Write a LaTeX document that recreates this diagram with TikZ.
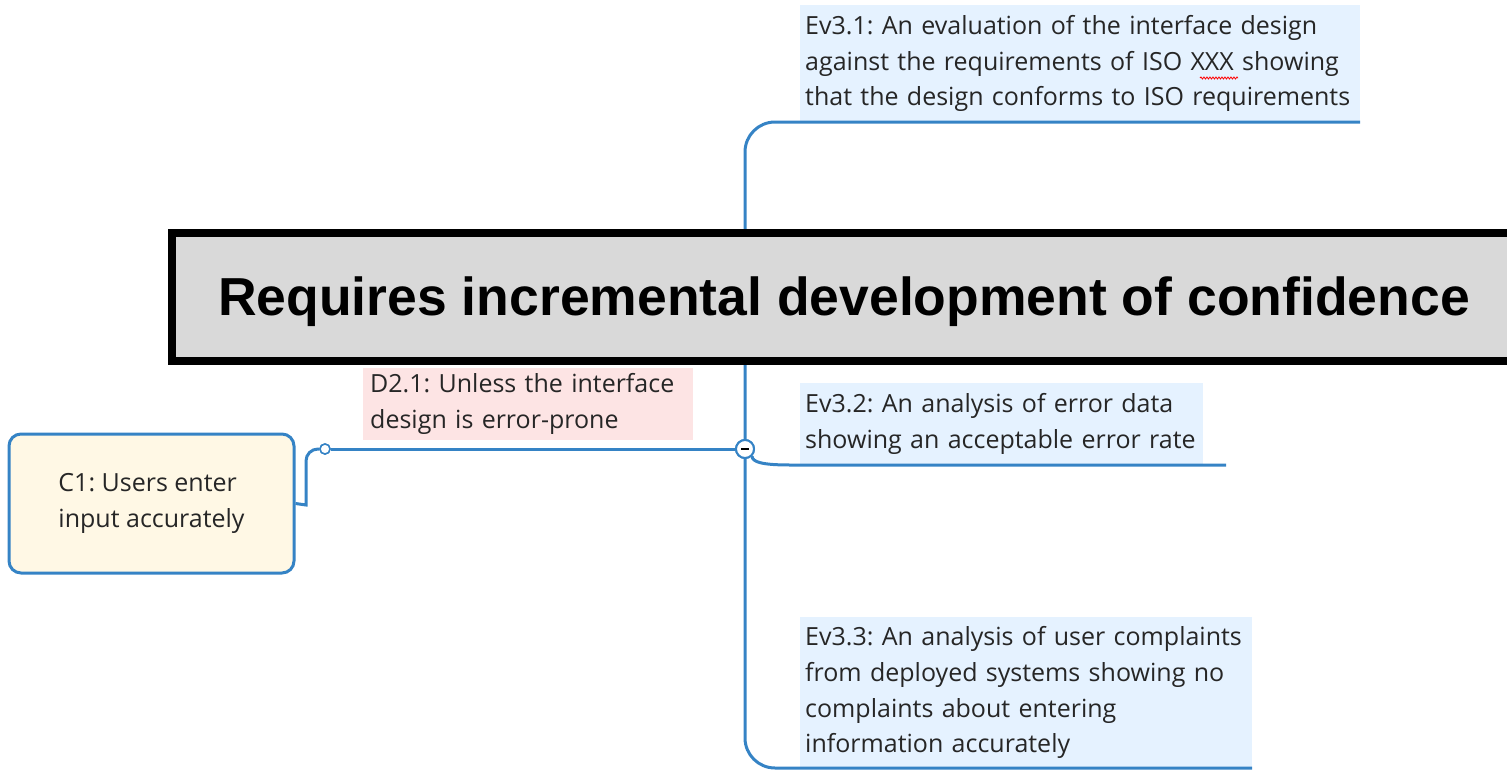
\documentclass[tikz,border=0pt]{standalone}
\usepackage{fontspec}
\setmainfont{Open Sans}
\newfontfamily\titlefont{Liberation Sans}
\usetikzlibrary{positioning,calc,decorations.pathmorphing}
\definecolor{mmblue}{RGB}{53,131,197}
\definecolor{mmev}{RGB}{229,242,255}
\definecolor{mmdef}{RGB}{253,228,228}
\definecolor{mmclaim}{RGB}{255,248,229}
\definecolor{mmgray}{RGB}{217,217,217}
\tikzset{
	link/.style = { draw=mmblue, line width=3pt },
	txt/.style = { font=\frenchspacing\fontsize{25}{35.6}\selectfont, align=left, text=black!85, inner sep=0pt },
	ev/.style = { txt, fill=mmev, anchor=north west, text width=#1, inner xsep=5pt },
	dfr/.style = { txt, fill=mmdef, anchor=north west, minimum width=330pt, minimum height=72pt, text width=316pt, inner xsep=7pt },
	claim/.style = { txt, draw=mmblue, line width=3pt, fill=mmclaim, rounded corners=12pt, minimum width=285pt, minimum height=139pt },
	knot/.style = { circle, draw=mmblue, line width=1.5pt, fill=white, inner sep=0pt, minimum size=10pt },
	hubc/.style = { circle, draw=mmblue, line width=2pt, fill=white, inner sep=0pt, minimum size=18pt },
	head/.style = { draw=black, line width=8pt, fill=mmgray, inner sep=0pt, anchor=north west },
	headtxt/.style = { font=\titlefont\bfseries\fontsize{53.5}{60}\selectfont, inner sep=0pt, anchor=base west },
}
\begin{document}
\begin{tikzpicture}[x=1pt,y=-1pt]
\clip (0,0) rectangle (1507,771);

\node (c1)   [claim] at (151.5,503.5) {C1: Users enter \\ input accurately};
\node (knot) [knot]  at (325,449) {};
\node (hub)  [hubc]  at (745,449) {};
\node (d21)  [dfr]   at (363,368) {D2.1: Unless the interface \\ design is error-prone};

\node (ev31) [ev=550pt,minimum height=117pt] at (800,5)   {Ev3.1: An evaluation of the interface design \\ against the requirements of ISO XXX showing \\ that the design conforms to ISO requirements};
\node (ev32) [ev=393pt,minimum height=82pt]  at (800,383) {Ev3.2: An analysis of error data \\ showing an acceptable error rate};
\node (ev33) [ev=442pt,minimum height=151pt] at (800,617) {Ev3.3: An analysis of user complaints \\ from deployed systems showing no \\ complaints about entering \\ information accurately};

\coordinate (e31) at (1360,122);
\coordinate (e32) at (1226,465);
\coordinate (e33) at (1252,768);

% connectors
\draw[link] (c1.east) -- (306,505) [rounded corners=12pt] -- (306,449) -- (knot.west);
\draw[link] (knot) -- (hub);
\draw[link,rounded corners=30pt] (hub.north) |- (e31);
\draw[link,rounded corners=30pt] (hub.south) |- (e33);
\draw[link] (hub.south east) .. controls (752,462) and (762,465) .. (790,465) -- (e32);
\node (hub2) [hubc] at (hub) {};
\draw[line width=1.5pt] ($(hub2)-(4,0)$) -- ($(hub2)+(4,0)$);
\node (knot2) [knot] at (knot) {};

% spell check mark
\draw[red,line width=0.8pt,decorate,decoration={snake,amplitude=1pt,segment length=3pt}] (1200,78) -- (1238,78);

\node (title) [head,minimum width=1360pt,minimum height=128pt] at (168,229) {};
\node (ttext) [headtxt] at (218,315) {Requires incremental development of confidence};
\end{tikzpicture}
\end{document}
